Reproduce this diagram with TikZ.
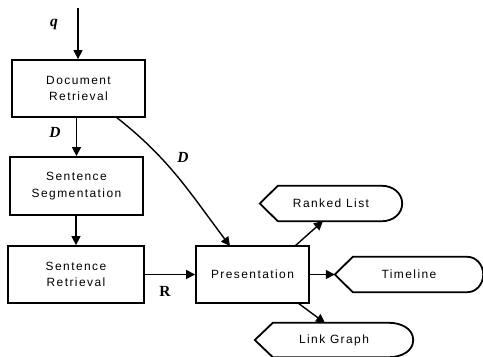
\documentclass[tikz,border=0pt]{standalone}
\usepackage{fontspec}
\usetikzlibrary{arrows.meta}
\newfontfamily\lblfont[LetterSpace=12]{Liberation Sans}
\newfontfamily\mathlbl{Liberation Serif}
\tikzset{
  procbox/.style={draw, line width=1.8bp, rectangle, align=center, inner sep=0pt,
    font=\lblfont\fontsize{12}{16.4}\selectfont},
  dispbox/.style={rectangle, inner sep=0pt, align=center,
    font=\lblfont\fontsize{12}{16.4}\selectfont},
  displine/.style={line width=1.8bp, line join=miter},
  arr/.style={line width=1.4bp, -{Triangle[length=9bp,width=9bp]}},
  varlbl/.style={font=\mathlbl\bfseries\itshape\fontsize{15.5}{16}\selectfont, inner sep=0pt},
  uplbl/.style={font=\mathlbl\bfseries\fontsize{15.5}{16}\selectfont, inner sep=0pt}
}
\newcommand\dispoutline[3]{%
  \draw[displine] (#1.west) -- ([xshift=#2]#1.north west) -- ([xshift=-#3]#1.north east)
    to[out=0,in=90] (#1.east) to[out=-90,in=0] ([xshift=-#3]#1.south east)
    -- ([xshift=#2]#1.south west) -- cycle;}
\begin{document}
\begin{tikzpicture}[x=1bp,y=-1bp]
\useasboundingbox (0,0) rectangle (483,356);
% process boxes
\node[procbox, minimum width=133bp, minimum height=57bp] (doc) at (78.5,88.5) {Document\\Retrieval};
\node[procbox, minimum width=133bp, minimum height=58bp] (seg) at (76.5,186) {Sentence\\Segmentation};
\node[procbox, minimum width=136bp, minimum height=57bp] (sret) at (76,274.5) {Sentence\\Retrieval};
\node[procbox, minimum width=113bp, minimum height=57bp] (pres) at (252.5,274.5) {Presentation};
% display shapes
\node[dispbox, minimum width=142bp, minimum height=35bp] (rl) at (331,203.5) {Ranked List};
\node[dispbox, minimum width=148bp, minimum height=35bp] (tl) at (409,274.5) {Timeline};
\node[dispbox, minimum width=158bp, minimum height=34bp] (lg) at (334,340) {Link Graph};
\dispoutline{rl}{18bp}{20bp}
\dispoutline{tl}{18bp}{16bp}
\dispoutline{lg}{18bp}{24bp}
% input
\coordinate (qin) at (78,8);
\draw[arr] (qin) -- (qin |- doc.north);
\node[varlbl] (q) at (54,25) {q};
% flow
\draw[arr] (seg.north |- doc.south) -- (seg.north);
\node[varlbl] (d1) at (55,132) {D};
\draw[arr] (sret.north |- seg.south) -- (sret.north);
\draw[arr] (sret.east) -- (pres.west);
\node[uplbl] (r) at (165,291) {R};
\coordinate (dstart) at (116,117);
\coordinate (dend) at (230,246);
\draw[arr] (dstart) to[out=-38,in=127] (dend);
\node[varlbl] (d2) at (183,157) {D};
% outputs
\coordinate (p1) at (295,246);
\coordinate (r1) at (323,221);
\draw[arr] (p1) -- (r1);
\draw[arr] (pres.east) -- (tl.west);
\coordinate (p2) at (298,303);
\coordinate (l1) at (325,323);
\draw[arr] (p2) -- (l1);
\end{tikzpicture}
\end{document}
